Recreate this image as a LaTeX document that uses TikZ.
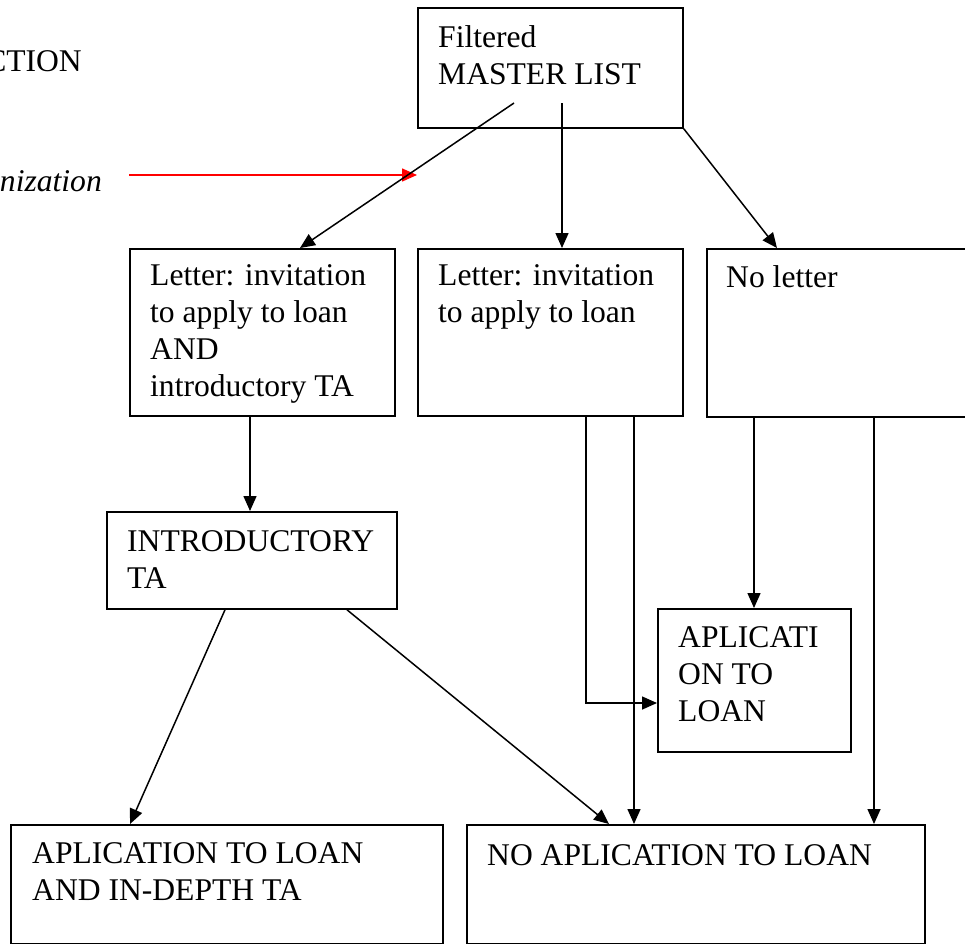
\documentclass[tikz,border=0pt]{standalone}
\usepackage{fontspec}
\setmainfont{Liberation Serif}
\usetikzlibrary{arrows.meta,calc}
\newcommand\txtlines[1]{\vtop{\baselineskip=37.3pt\lineskiplimit=-50pt\lineskip=0pt\halign{##\hfil\cr#1\crcr}}}
\begin{document}
\begin{tikzpicture}[x=1pt,y=-1pt,
  box/.style={draw, line width=1.8pt, anchor=north west, inner sep=0pt},
  lbl/.style={anchor=base west, inner sep=0pt, font=\fontsize{31.6}{37.3}\selectfont},
  arr/.style={line width=1.5pt, -{Triangle[length=15pt,width=13pt]}}]
\useasboundingbox (0,0) rectangle (965,943);
\clip (0,0) rectangle (965,943);

% boxes
\node[box, minimum width=265pt, minimum height=120pt] (master) at (417,7) {};
\node[box, minimum width=265pt, minimum height=167pt] (A) at (129,248) {};
\node[box, minimum width=265pt, minimum height=167pt] (B) at (417,248) {};
\node[box, minimum width=275pt, minimum height=168pt] (C) at (706,248) {};
\node[box, minimum width=290pt, minimum height=97pt] (intro) at (106,511) {};
\node[box, minimum width=193pt, minimum height=143pt] (apl) at (657,608) {};
\node[box, minimum width=432pt, minimum height=119pt] (appind) at (10,824) {};
\node[box, minimum width=458pt, minimum height=119pt] (noapp) at (466,824) {};

% texts
\node[lbl] (tmaster) at (438,47) {\txtlines{Filtered\cr MASTER LIST}};
\node[lbl] (tA) at (150,285) {\txtlines{Letter: invitation\cr to apply to loan\cr AND\cr introductory TA}};
\node[lbl] (tB) at (438,285) {\txtlines{Letter: invitation\cr to apply to loan}};
\node[lbl] (tC) at (726,287) {No letter};
\node[lbl] (tintro) at (127,551) {\txtlines{INTRODUCTORY\cr TA}};
\node[lbl] (tapl) at (678,647) {\txtlines{APLICATI\cr ON TO\cr LOAN}};
\node[lbl] (tappind) at (32,863) {\txtlines{APLICATION TO LOAN\cr AND IN-DEPTH TA}};
\node[lbl] (tnoapp) at (487,865) {NO APLICATION TO LOAN};
\node[lbl, anchor=base east] (tction) at (82,71) {CTION};
\node[lbl, anchor=base east, font=\fontsize{31.6}{37.3}\selectfont\itshape] (tniz) at (102,191) {nization};

% coordinates
\coordinate (m1) at (514,103);
\coordinate (m2) at (562,103);
\coordinate (r1) at (129,175);
\coordinate (r2) at (417,175);

% connectors
\draw[arr, red] (r1) -- (r2);
\draw[arr] (m1) -- (A.north -| 300,0);
\draw[arr] (m2) -- (B.north -| 562,0);
\draw[arr] (master.south east) -- (C.north -| 777,0);
\draw[arr] (A.south -| 250,0) -- (intro.north -| 250,0);
\draw[arr] (B.south -| 586,0) |- (apl.west |- 0,703);
\draw[arr] (B.south -| 634,0) -- (noapp.north -| 634,0);
\draw[arr] (C.south -| 754,0) -- (apl.north -| 754,0);
\draw[arr] (C.south -| 874,0) -- (noapp.north -| 874,0);
\draw[arr] (intro.south -| 225,0) -- (appind.north -| 130,0);
\draw[arr] (intro.south -| 347,0) -- (noapp.north -| 609,0);
\end{tikzpicture}
\end{document}
